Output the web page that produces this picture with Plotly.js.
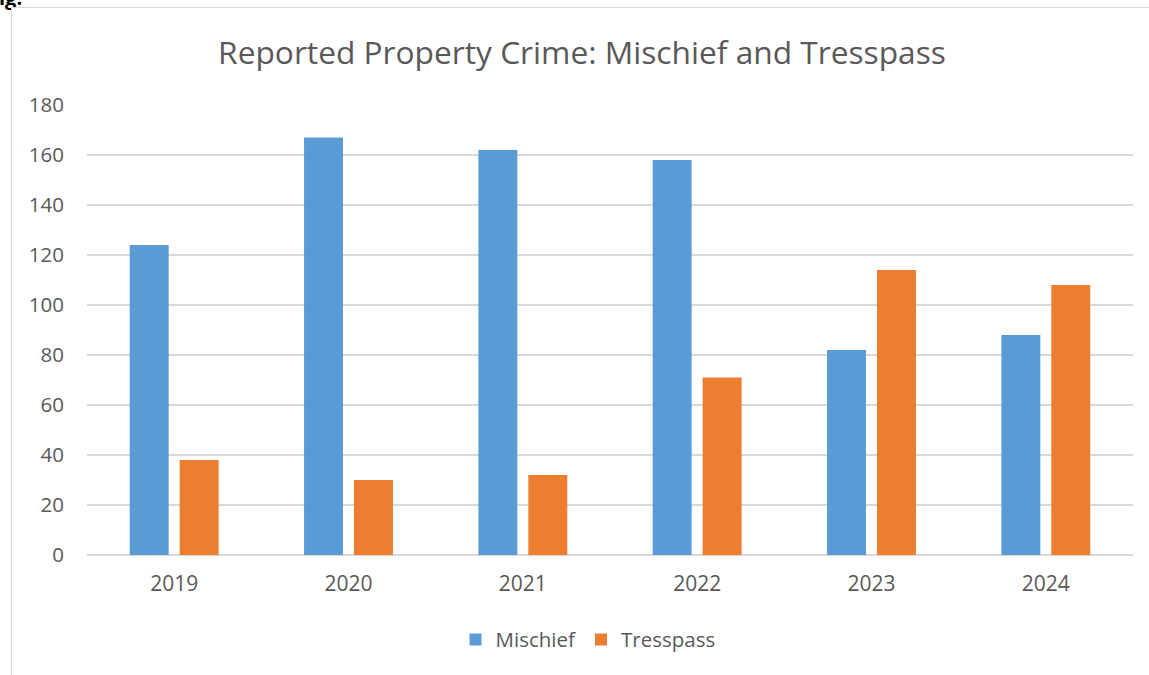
<!DOCTYPE html>
<html>
<head>
<meta charset="utf-8">
<script src="https://cdn.plot.ly/plotly-3.0.1.min.js"></script>
<style>
  html, body { margin: 0; padding: 0; width: 1149px; height: 675px; overflow: hidden; background: #fff; }
  #frame { position: absolute; left: 11px; top: 7px; width: 1150px; height: 680px;
           border-left: 1.5px solid #d9d9d9; border-top: 1.5px solid #d9d9d9; }
  #chart { width: 1140px; height: 670px; }
  #cap { position: absolute; left: -12px; top: -16px; font: bold 20px "Open Sans", sans-serif; color: #000; }
</style>
</head>
<body>
<div id="cap">Fig.</div>
<div id="frame"><div id="chart"></div></div>
<script>
const years = ['2019', '2020', '2021', '2022', '2023', '2024'];
const mischief = [124, 167, 162, 158, 82, 88];
const tresspass = [38, 30, 32, 71, 114, 108];
const yTicks = [0, 20, 40, 60, 80, 100, 120, 140, 160, 180];

const font = '"Open Sans", Lato, sans-serif';
const traces = [
  { type: 'bar', name: 'Mischief', x: years, y: mischief,
    marker: { color: '#5b9bd5' }, hoverinfo: 'x+y' },
  { type: 'bar', name: 'Tresspass', x: years, y: tresspass,
    marker: { color: '#ed7d31' }, hoverinfo: 'x+y' }
];
const layout = {
  width: 1140, height: 670,
  margin: { l: 75, r: 19, t: 97, b: 123 },
  paper_bgcolor: '#fff', plot_bgcolor: '#fff',
  font: { family: font, color: '#595959', size: 18 },
  title: { text: 'Reported Property Crime: Mischief and Tresspass',
           font: { family: font, size: 31.7, color: '#595959' },
           x: 0.5, xanchor: 'center', y: 1 - 45/670, yanchor: 'middle' },
  barmode: 'group', bargap: 0.427, bargroupgap: 0.22,
  xaxis: { type: 'category', showgrid: false, showline: false, ticks: '',
           tickfont: { size: 21, color: '#595959' }, ticklabelstandoff: 14 },
  yaxis: { range: [0, 180], tickvals: yTicks, ticktext: yTicks.map(String),
           showgrid: true, gridcolor: '#d9d9d9', gridwidth: 1.5,
           zeroline: true, zerolinecolor: '#d9d9d9', zerolinewidth: 1.5,
           showline: false, ticks: '', ticklabelstandoff: 22,
           tickfont: { size: 20.5, color: '#595959' } },
  showlegend: true,
  legend: { orientation: 'h', x: 0.479, xanchor: 'center', y: -0.188, yanchor: 'middle',
            font: { size: 20.5, color: '#595959' }, itemwidth: 30, tracegroupgap: 0 }
};
Plotly.newPlot('chart', traces, layout, { displayModeBar: false, staticPlot: true });
</script>
</body>
</html>
